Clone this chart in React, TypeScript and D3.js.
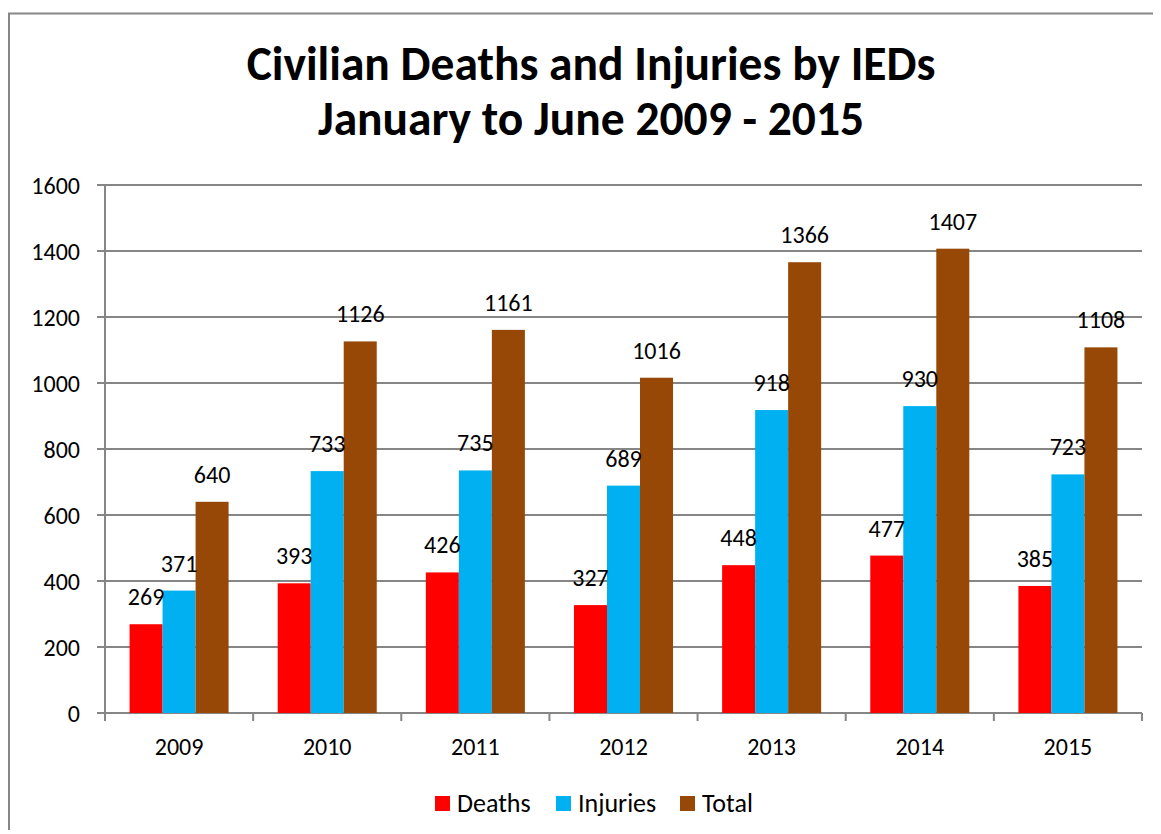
import React, { useRef, useEffect } from "react";
import * as d3 from "d3";

const years = ["2009", "2010", "2011", "2012", "2013", "2014", "2015"];
const deaths = [269, 393, 426, 327, 448, 477, 385];
const injuries = [371, 733, 735, 689, 918, 930, 723];
const total = [640, 1126, 1161, 1016, 1366, 1407, 1108];
const seriesNames = ["Deaths", "Injuries", "Total"];
const seriesColors = ["#FF0000", "#00B0F0", "#974706"];
const yTicks = [0, 200, 400, 600, 800, 1000, 1200, 1400, 1600];

function App() {
  const svgRef = useRef<SVGSVGElement>(null);

  useEffect(() => {
    const w = 1161;
    const h = 834;
    const font = "Carlito, Lato, 'Open Sans', sans-serif";
    const fs = 24;
    const svg = d3.select(svgRef.current).attr("width", w).attr("height", h);
    svg.selectAll("*").remove();

    // outer chart border
    svg
      .append("rect")
      .attr("x", 9)
      .attr("y", 13.5)
      .attr("width", w + 10)
      .attr("height", h + 10)
      .attr("fill", "white")
      .attr("stroke", "#868686")
      .attr("stroke-width", 2);

    const left = 105;
    const right = 1142;
    const top = 185;
    const bottom = 713;

    const x0 = d3.scaleBand().domain(years).range([left, right]).paddingInner(0).paddingOuter(0);
    const inner = 99 / 148.1;
    const x1 = d3
      .scaleBand()
      .domain(seriesNames)
      .range([(x0.bandwidth() * (1 - inner)) / 2, (x0.bandwidth() * (1 + inner)) / 2]);
    const y = d3.scaleLinear().domain([0, 1600]).range([bottom, top]);

    const grid = "#868686";

    // gridlines
    svg
      .append("g")
      .selectAll("line")
      .data(yTicks)
      .join("line")
      .attr("x1", left - 8)
      .attr("x2", right)
      .attr("y1", (d) => y(d))
      .attr("y2", (d) => y(d))
      .attr("stroke", grid)
      .attr("stroke-width", 2);

    // y axis line
    svg
      .append("line")
      .attr("x1", left)
      .attr("x2", left)
      .attr("y1", top)
      .attr("y2", bottom + 8)
      .attr("stroke", grid)
      .attr("stroke-width", 2);

    // y tick labels
    svg
      .append("g")
      .selectAll("text")
      .data(yTicks)
      .join("text")
      .attr("x", left - 25)
      .attr("y", (d) => y(d))
      .attr("dy", "0.36em")
      .attr("text-anchor", "end")
      .attr("font-family", font)
      .attr("font-size", fs)
      .attr("fill", "#000")
      .text((d) => d);

    // x category ticks
    svg
      .append("g")
      .selectAll("line")
      .data(years)
      .join("line")
      .attr("x1", (d) => (x0(d) as number) + x0.bandwidth())
      .attr("x2", (d) => (x0(d) as number) + x0.bandwidth())
      .attr("y1", bottom)
      .attr("y2", bottom + 8)
      .attr("stroke", grid)
      .attr("stroke-width", 2);

    svg
      .append("g")
      .selectAll("text")
      .data(years)
      .join("text")
      .attr("x", (d) => (x0(d) as number) + x0.bandwidth() / 2)
      .attr("y", bottom + 42)
      .attr("text-anchor", "middle")
      .attr("font-family", font)
      .attr("font-size", fs)
      .attr("fill", "#000")
      .text((d) => d);

    const seriesData = [deaths, injuries, total];
    const rows = years.map((yr, i) =>
      seriesNames.map((s, k) => ({ yr, s, k, v: seriesData[k][i] }))
    );

    const groups = svg
      .append("g")
      .selectAll("g")
      .data(rows)
      .join("g")
      .attr("transform", (d) => `translate(${x0(d[0].yr)},0)`);

    groups
      .selectAll("rect")
      .data((d) => d)
      .join("rect")
      .attr("x", (d) => x1(d.s) as number)
      .attr("width", x1.bandwidth())
      .attr("y", (d) => y(d.v))
      .attr("height", (d) => bottom - y(d.v))
      .attr("fill", (d) => seriesColors[d.k]);

    groups
      .selectAll("text")
      .data((d) => d)
      .join("text")
      .attr("x", (d) => (x1(d.s) as number) + x1.bandwidth() / 2)
      .attr("y", (d) => y(d.v) - 19)
      .attr("text-anchor", "middle")
      .attr("font-family", font)
      .attr("font-size", fs)
      .attr("fill", "#000")
      .text((d) => d.v);

    // title
    const title = svg
      .append("text")
      .attr("x", 591)
      .attr("text-anchor", "middle")
      .attr("font-family", font)
      .attr("font-weight", "bold")
      .attr("font-size", 47.5)
      .attr("fill", "#000");
    title.append("tspan").attr("x", 591).attr("y", 80).text("Civilian Deaths and Injuries by IEDs");
    title.append("tspan").attr("x", 591).attr("y", 135).text("January to June 2009 - 2015");

    // legend
    const legendX = [435, 556, 680];
    const legend = svg
      .append("g")
      .selectAll("g")
      .data(seriesNames)
      .join("g")
      .attr("transform", (d, i) => `translate(${legendX[i]},796)`);
    legend
      .append("rect")
      .attr("width", 15)
      .attr("height", 15)
      .attr("fill", (d, i) => seriesColors[i]);
    legend
      .append("text")
      .attr("x", 22)
      .attr("y", 16)
      .attr("font-family", font)
      .attr("font-size", 26)
      .attr("fill", "#000")
      .text((d) => d);
  }, []);

  return (
    <div style={{ margin: -8 }}>
      <svg ref={svgRef}></svg>
    </div>
  );
}

export default App;
